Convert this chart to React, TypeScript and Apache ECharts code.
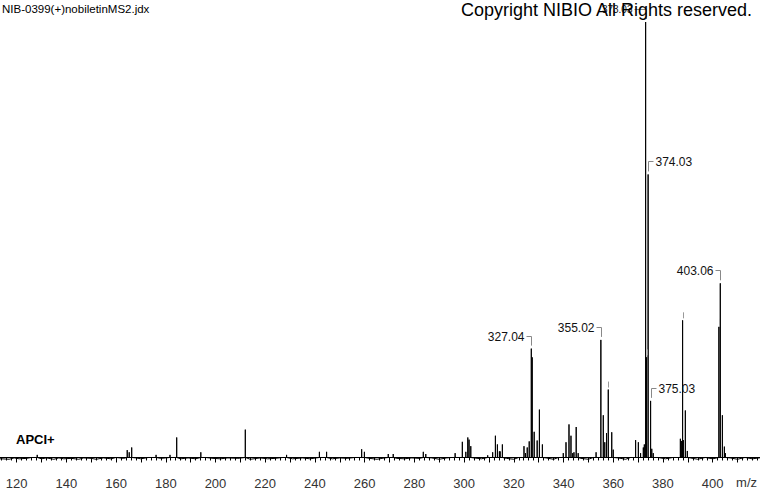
import React, { useEffect, useRef } from "react";
import * as echarts from "echarts";

// ---- data (m/z, relative intensity %) ----
const peakMz = [
  128.3, 164.5, 165.3, 166.3, 176.1, 181.7, 184.4, 194.1, 212.0, 228.6,
  241.8, 244.7, 258.8, 259.9, 269.5, 271.5, 283.6, 284.6, 296.4, 299.3,
  300.7, 301.5, 302.0, 302.7, 309.5, 311.5, 312.6, 313.4, 314.2, 314.5,
  315.4, 324.1, 324.7, 325.4, 326.2, 327.04, 327.4, 328.2, 329.4, 330.3,
  331.5, 339.9, 341.0, 342.2, 343.0, 343.7, 344.2, 345.1, 345.9, 353.1,
  355.02, 356.0, 356.6, 357.3, 358.0, 359.4, 360.0, 369.0, 370.1, 371.0,
  372.1, 372.5, 373.03, 373.4, 374.03, 375.03, 375.5, 376.1, 387.0, 387.4,
  387.9, 388.2, 389.0, 389.8, 402.5, 403.06, 403.9, 404.7, 405.1,
];
const peakIntensity = [
  0.6, 1.7, 1.2, 2.3, 0.6, 0.6, 4.6, 1.2, 6.4, 0.6,
  1.3, 1.3, 1.9, 1.3, 0.8, 0.8, 1.3, 0.8, 1.0, 3.6,
  1.3, 4.6, 4.1, 2.6, 0.5, 1.2, 5.0, 3.0, 1.4, 1.4,
  3.0, 2.6, 1.0, 2.3, 3.7, 25.0, 23.0, 5.9, 3.9, 11.0,
  3.0, 1.0, 3.5, 7.6, 5.0, 1.0, 1.2, 7.0, 1.0, 1.2,
  27.0, 9.7, 3.5, 5.6, 15.6, 5.8, 1.8, 4.0, 3.5, 1.0,
  2.3, 3.0, 100.0, 23.0, 65.0, 13.0, 2.0, 1.0, 4.3, 3.8,
  31.5, 4.0, 10.8, 1.5, 30.0, 40.0, 9.7, 2.5, 1.0,
];

// baseline noise (relative intensity %)
const baselineMz = [
  110, 114, 117, 119, 121, 124, 126, 130, 132, 135, 137, 139, 142, 145, 147,
  150, 152, 155, 158, 160, 163, 168, 170, 173, 178, 180, 186, 189, 192, 196,
  199, 202, 205, 209, 214, 218, 221, 224, 227, 231, 235, 238, 242, 247, 250,
  253, 256, 262, 265, 268, 273, 276, 279, 282, 287, 290, 293, 295, 304, 307,
  310, 317, 320, 322, 333, 336, 338, 347, 350, 352, 362, 365, 367, 378, 381,
  384, 391, 394, 397, 400, 407, 410, 413, 416, 420,
];
const baselineValue = [
  -0.3, -0.3, -0.4, -0.1, -0.3, -0.2, 0.0, -0.3, -0.1, -0.4, -0.1, -0.3, -0.2, -0.4, -0.1,
  -0.2, -0.4, -0.1, -0.3, 0.0, -0.2, -0.1, -0.3, 0.0, -0.2, -0.1, -0.3, -0.1, -0.3, 0.0,
  -0.2, -0.3, -0.1, -0.2, -0.4, -0.1, -0.3, -0.2, 0.0, -0.3, -0.1, -0.3, -0.1, -0.3, -0.1,
  -0.2, 0.0, -0.2, -0.4, -0.1, -0.2, -0.3, -0.1, -0.2, -0.1, -0.4, -0.1, 0.0, -0.1, -0.3,
  0.0, -0.2, -0.4, 0.0, -0.1, -0.4, 0.0, -0.2, -0.4, 0.0, -0.1, -0.4, 0.0, 0.0, -0.3,
  0.0, -0.1, -0.4, 0.0, -0.3, -0.1, -0.4, 0.0, -0.3, 0.0,
];

// peak annotations ('' = marker without label)
const labelMz = [327.04, 355.02, 373.03, 374.03, 375.03, 403.06, 358.0, 373.4, 387.9, 402.5];
const labelIntensity = [25.0, 27.0, 100.0, 65.0, 13.0, 40.0, 15.6, 23.0, 31.5, 30.0];
const labelText = ["327.04", "355.02", "373.03", "374.03", "375.03", "403.06", "", "", "", ""];
const labelSide = ["left", "left", "left", "right", "right", "left", "", "", "", ""];

const xTickLabels = [120, 140, 160, 180, 200, 220, 240, 260, 280, 300, 320, 340, 360, 380, 400];

const FONT = "Arial, 'Liberation Sans', sans-serif";

function buildTrace(): number[][] {
  const events: { mz: number; pts: number[][] }[] = [];
  baselineMz.forEach((m, i) => events.push({ mz: m, pts: [[m, baselineValue[i]]] }));
  peakMz.forEach((m, i) =>
    events.push({ mz: m, pts: [[m, 0], [m, peakIntensity[i]], [m, 0]] })
  );
  events.sort((a, b) => a.mz - b.mz);
  const out: number[][] = [];
  events.forEach((e) => e.pts.forEach((p) => out.push(p)));
  return out;
}

export default function App() {
  const ref = useRef<HTMLDivElement>(null);
  useEffect(() => {
    if (!ref.current) return;
    const chart = echarts.init(ref.current, undefined, { renderer: "svg" });
    const maxI = Math.max(...labelIntensity);
    const option: any = {
      animation: false,
      backgroundColor: "#ffffff",
      grid: {
        left: -8.26,
        right: -2.4,
        top: 22,
        bottom: 21,
        containLabel: false,
        outerBoundsMode: "none",
      },
      xAxis: {
        type: "value",
        min: 110,
        max: 420,
        interval: 10,
        axisLine: { show: true, lineStyle: { color: "#000", width: 1 } },
        axisTick: { show: true, length: 5, lineStyle: { color: "#000", width: 1 } },
        minorTick: { show: true, splitNumber: 5, length: 3, lineStyle: { color: "#000", width: 1 } },
        splitLine: { show: false },
        axisLabel: {
          margin: 6,
          fontSize: 13,
          color: "#333",
          fontFamily: FONT,
          formatter: (v: number) => (xTickLabels.indexOf(Math.round(v)) >= 0 ? String(Math.round(v)) : ""),
        },
      },
      yAxis: { type: "value", min: -3.1, max: 100, show: false },
      series: [
        {
          type: "line",
          data: buildTrace(),
          showSymbol: false,
          symbol: "none",
          silent: true,
          lineStyle: { color: "#000", width: 1 },
          z: 2,
        },
        {
          type: "custom",
          clip: false,
          silent: true,
          z: 3,
          data: labelMz.map((m, i) => [m, labelIntensity[i]]),
          renderItem: (params: any, api: any) => {
            const i = params.dataIndex;
            const p = api.coord([api.value(0), api.value(1)]);
            const x = Math.round(p[0]) + 0.5;
            const top = p[1];
            const txt = labelText[i];
            if (!txt) {
              return {
                type: "line",
                shape: { x1: x, y1: top - 2, x2: x, y2: top - 8 },
                style: { stroke: "#999", lineWidth: 1 },
              };
            }
            const side = labelSide[i];
            const ly = Math.round(top - 13) + 0.5;
            const dir = side === "left" ? -1 : 1;
            const small = labelIntensity[i] === maxI;
            return {
              type: "group",
              children: [
                {
                  type: "polyline",
                  shape: { points: [[x, top - 3], [x, ly], [x + dir * (small ? 12 : 5), ly]] },
                  style: { stroke: "#888", lineWidth: 1, fill: null },
                },
                {
                  type: "text",
                  x: x + dir * (small ? 14 : 7),
                  y: ly,
                  style: {
                    text: txt,
                    align: side === "left" ? "right" : "left",
                    verticalAlign: "middle",
                    font: (small ? "10px " : "12px ") + FONT,
                    fill: "#111",
                  },
                },
              ],
            };
          },
        },
      ],
      graphic: [
        {
          type: "text",
          left: 2,
          top: 3,
          style: { text: "NIB-0399(+)nobiletinMS2.jdx", font: "11.5px " + FONT, fill: "#000" },
        },
        {
          type: "text",
          right: 7,
          top: 1,
          z: 10,
          style: { text: "Copyright NIBIO All Rights reserved.", font: "18px " + FONT, fill: "#000" },
        },
        {
          type: "text",
          left: 16,
          top: 433,
          style: { text: "APCI+", font: "bold 13px " + FONT, fill: "#000" },
        },
        {
          type: "text",
          right: 3,
          top: 476,
          style: { text: "m/z", font: "13px " + FONT, fill: "#333" },
        },
      ],
    };
    chart.setOption(option);
    return () => chart.dispose();
  }, []);
  return (
    <div
      ref={ref}
      style={{ position: "absolute", left: 0, top: 0, width: 760, height: 492, background: "#fff" }}
    />
  );
}
